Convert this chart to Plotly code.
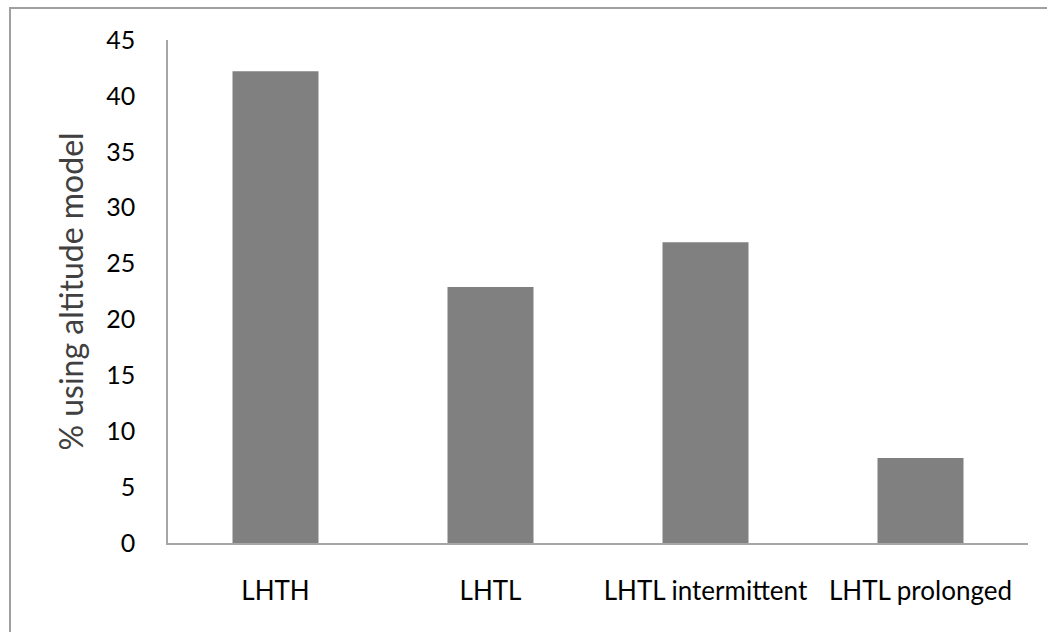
import plotly.graph_objects as go

categories = ["LHTH", "LHTL", "LHTL intermittent", "LHTL prolonged"]
values = [42.2, 22.9, 26.9, 7.6]
y_ticks = [0, 5, 10, 15, 20, 25, 30, 35, 40, 45]

W, H = 1047, 632
L, R, T, B = 168, 19, 40, 89
pw, ph = W - L - R, H - T - B

fig = go.Figure(go.Bar(x=categories, y=values, marker=dict(color="#808080", line=dict(width=0)),
                       width=0.4))

font_family = "Lato, Open Sans, sans-serif"
fig.update_layout(
    width=W, height=H,
    margin=dict(l=L, r=R, t=T, b=B),
    paper_bgcolor="white", plot_bgcolor="white",
    showlegend=False,
    font=dict(family=font_family, color="black"),
    xaxis=dict(showgrid=False, zeroline=False, showline=True, linecolor="#a6a6a6", linewidth=2,
               ticks="", tickfont=dict(size=26, color="black"), ticklabelstandoff=24),
    yaxis=dict(range=[0, 45], tickvals=y_ticks, showgrid=False, zeroline=False, showline=True,
               linecolor="#a6a6a6", linewidth=1.5, ticks="", tickfont=dict(size=25, color="black"),
               ticklabelstandoff=26,
               title=dict(text="% using altitude model", font=dict(size=32, color="#404040"),
                          standoff=13)),
    shapes=[dict(type="rect", xref="paper", yref="paper",
                 x0=(10 - L) / pw, x1=(W + 20 - L) / pw,
                 y0=-(H + 20 - T - ph) / ph, y1=1 + (T - 8) / ph,
                 line=dict(color="#a0a0a0", width=2), fillcolor="rgba(0,0,0,0)", layer="below")],
)

fig.write_html("out.html", config={"displayModeBar": False},
               post_script="document.body.style.margin='0';document.body.style.overflow='hidden';")
